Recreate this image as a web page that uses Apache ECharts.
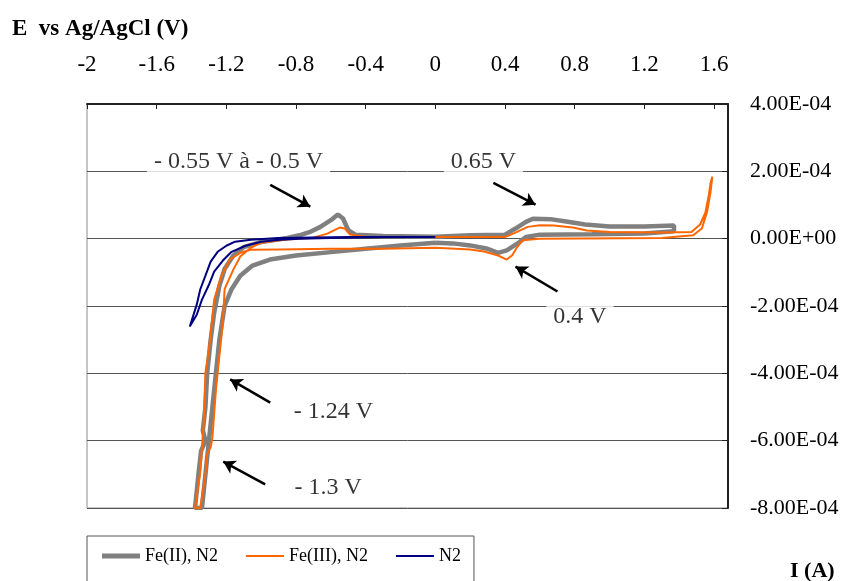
<!DOCTYPE html>
<html>
<head>
<meta charset="utf-8">
<script src="https://cdn.jsdelivr.net/npm/echarts@6/dist/echarts.min.js"></script>
<style>
  html, body { margin: 0; padding: 0; background: #fff; }
  #chart { width: 849px; height: 581px; }
</style>
</head>
<body>
<div id="chart"></div>
<script>
// potential (V vs Ag/AgCl) and current (x 1E-4 A)
const fe2E = [0.0, -0.2, -0.4, -0.6, -0.8, -0.95, -1.05, -1.12, -1.17, -1.21, -1.24, -1.26, -1.28, -1.30, -1.32, -1.34,
  -1.38, -1.36, -1.345, -1.32, -1.335, -1.32, -1.31, -1.29, -1.27, -1.24, -1.21, -1.16, -1.1, -1.0, -0.85, -0.78, -0.72, -0.66, -0.6, -0.56, -0.53, -0.5, -0.46, -0.3, 0.0,
  0.2, 0.4, 0.46, 0.52, 0.56, 0.66, 0.76, 0.86, 1.0, 1.2, 1.37,
  1.37, 1.2, 0.9, 0.6, 0.52, 0.47, 0.41, 0.36, 0.3, 0.2, 0.1, 0.0]
const fe2I = [-0.12, -0.2, -0.3, -0.4, -0.5, -0.62, -0.8, -1.1, -1.5, -2.0, -3.0, -4.0, -5.0, -6.0, -7.0, -8.0,
  -8.0, -7.0, -6.3, -6.0, -5.7, -5.0, -4.0, -3.0, -2.2, -1.4, -0.9, -0.5, -0.25, -0.1, 0.02, 0.1, 0.2, 0.35, 0.55, 0.72, 0.6, 0.25, 0.12, 0.08, 0.06,
  0.1, 0.12, 0.3, 0.5, 0.59, 0.58, 0.5, 0.42, 0.36, 0.36, 0.39,
  0.22, 0.15, 0.13, 0.12, 0.05, -0.15, -0.35, -0.42, -0.3, -0.2, -0.14, -0.12]

const fe3E = [0.0, -0.3, -0.6, -0.9, -1.06, -1.12, -1.18, -1.23, -1.27, -1.30, -1.32, -1.33, -1.35, -1.38,
  -1.35, -1.32, -1.31, -1.29, -1.28, -1.26, -1.24, -1.22, -1.21, -1.16, -1.12, -1.06, -1.0, -0.87, -0.7, -0.62, -0.55, -0.52, -0.49, -0.4, 0.0,
  0.4, 0.46, 0.53, 0.6, 0.68, 0.79, 0.87, 1.0, 1.3, 1.47, 1.52, 1.55, 1.57, 1.58, 1.59,
  1.58, 1.56, 1.53, 1.48, 1.3, 0.6, 0.5, 0.47, 0.44, 0.41, 0.36, 0.28, 0.2, 0.0]
const fe3I = [-0.27, -0.3, -0.3, -0.32, -0.33, -0.42, -0.62, -1.13, -1.81, -3.29, -3.98, -5.46, -6.94, -8.0,
  -8.0, -7.0, -6.4, -6.2, -5.9, -4.5, -3.47, -2.5, -1.5, -0.92, -0.53, -0.27, -0.12, -0.03, 0.03, 0.15, 0.33, 0.3, 0.12, 0.06, 0.05,
  0.05, 0.18, 0.35, 0.4, 0.39, 0.33, 0.24, 0.2, 0.18, 0.2, 0.42, 0.77, 1.3, 1.66, 1.84,
  1.4, 0.8, 0.3, 0.1, 0.02, 0.0, -0.05, -0.25, -0.5, -0.62, -0.5, -0.38, -0.32, -0.27]

const n2E = [0.0, -0.3, -0.6, -0.78, -0.89, -1.0, -1.09, -1.17, -1.22, -1.27, -1.3, -1.34, -1.37, -1.41,
  -1.40, -1.37, -1.35, -1.32, -1.29, -1.25, -1.2, -1.15, -1.06, -0.9, -0.5, -0.2]
const n2I = [0.05, 0.05, 0.02, 0.0, -0.03, -0.09, -0.21, -0.39, -0.65, -0.98, -1.37, -1.81, -2.26, -2.61,
  -2.45, -1.96, -1.51, -1.10, -0.68, -0.39, -0.21, -0.09, -0.03, 0.02, 0.05, 0.05]

// notes written on the plot: [E, I x 1E-4, text]
const notes = [
  [-1.13, 2.28, '- 0.55 V à - 0.5 V'],
  [0.276, 2.28, '0.65 V'],
  [0.83, -2.31, '0.4 V'],
  [-0.586, -5.13, '- 1.24 V'],
  [-0.615, -7.39, '- 1.3 V']
]
// arrows: from [E, I] to [E, I]
const arrows = [
  [[-0.948, 1.60], [-0.718, 0.95]],
  [[0.333, 1.66], [0.575, 1.01]],
  [[0.701, -1.57], [0.460, -0.83]],
  [[-0.948, -4.87], [-1.178, -4.18]],
  [[-0.977, -7.30], [-1.218, -6.62]]
]

const UNIT = 1e-4
const FONT = '"Liberation Serif", "Times New Roman", serif'

const zip = (es, is) => es.map((e, i) => [e, is[i] * UNIT])

// 4.00E-04 style
const sci = v => {
  if (Math.abs(v) < 1e-12) return '0.00E+00'
  const [m, e] = v.toExponential(2).split('e')
  const n = parseInt(e, 10)
  return m + 'E' + (n < 0 ? '-' : '+') + String(Math.abs(n)).padStart(2, '0')
}

const chart = echarts.init(document.getElementById('chart'))

const option = {
  animation: false,
  backgroundColor: '#fff',
  textStyle: { fontFamily: FONT },
  grid: {
    left: 87, right: 121, top: 104, bottom: 73,
    show: true, borderColor: '#8c8c8c', borderWidth: 1, backgroundColor: 'transparent'
  },
  xAxis: {
    type: 'value',
    position: 'top',
    min: -2, max: 1.68, interval: 0.4,
    axisLine: { onZero: false, lineStyle: { color: '#222', width: 2 } },
    axisTick: { inside: true, length: 5, lineStyle: { color: '#222' } },
    splitLine: { show: false },
    axisLabel: {
      color: '#000', fontSize: 23, fontFamily: FONT, margin: 28, showMaxLabel: false,
      formatter: v => String(Math.round(v * 10) / 10)
    }
  },
  yAxis: {
    type: 'value',
    position: 'right',
    min: -8e-4, max: 4e-4, interval: 2e-4,
    axisLine: { onZero: false, lineStyle: { color: '#222', width: 2 } },
    axisTick: { inside: true, length: 6, lineStyle: { color: '#222' } },
    splitLine: { show: true, lineStyle: { color: '#555', width: 1 } },
    axisLabel: { color: '#000', fontSize: 22, fontFamily: FONT, margin: 22, formatter: sci }
  },
  legend: {
    data: [
      { name: 'Fe(II), N2', icon: 'path://M0,0H38V5H0Z' },
      { name: 'Fe(III), N2', icon: 'path://M0,0H38V2H0Z' },
      { name: 'N2', icon: 'path://M0,0H38V2H0Z' }
    ],
    left: 87, top: 536,
    padding: [11, 13, 30, 15],
    itemWidth: 38, itemHeight: 14, itemGap: 28,
    borderColor: '#555', borderWidth: 1,
    textStyle: { color: '#000', fontSize: 18, fontFamily: FONT }
  },
  graphic: [
    { type: 'text', left: 12, top: 18, style: { text: 'E  vs Ag/AgCl (V)', font: 'bold 23px ' + FONT, fill: '#000' } },
    { type: 'text', left: 790, top: 560, style: { text: 'I (A)', font: 'bold 22px ' + FONT, fill: '#000' } }
  ],
  series: [
    {
      name: 'Fe(II), N2', type: 'line', data: zip(fe2E, fe2I),
      symbol: 'none', showSymbol: false, color: '#808080',
      lineStyle: { width: 4.5, color: '#808080' }
    },
    {
      name: 'Fe(III), N2', type: 'line', data: zip(fe3E, fe3I),
      symbol: 'none', showSymbol: false, color: '#ff6600',
      lineStyle: { width: 2, color: '#ff6600' }
    },
    {
      name: 'N2', type: 'line', data: zip(n2E, n2I),
      symbol: 'none', showSymbol: false, color: '#000080',
      lineStyle: { width: 2, color: '#000080' }
    },
    {
      name: 'notes', type: 'scatter', symbolSize: 0, z: 10, silent: true,
      data: notes.map(n => ({ value: [n[0], n[1] * UNIT], text: n[2] })),
      label: {
        show: true, position: 'inside', color: '#000', fontSize: 24, fontFamily: FONT,
        backgroundColor: '#fff', padding: [5, 7, 5, 7],
        formatter: p => p.data.text
      },
      markLine: {
        silent: true, symbol: ['none', 'arrow'], symbolSize: [11, 12],
        label: { show: false },
        lineStyle: { color: '#000', width: 2.5, type: 'solid' },
        data: arrows.map(a => [
          { coord: [a[0][0], a[0][1] * UNIT] },
          { coord: [a[1][0], a[1][1] * UNIT] }
        ])
      }
    }
  ]
}

chart.setOption(option)
</script>
</body>
</html>
